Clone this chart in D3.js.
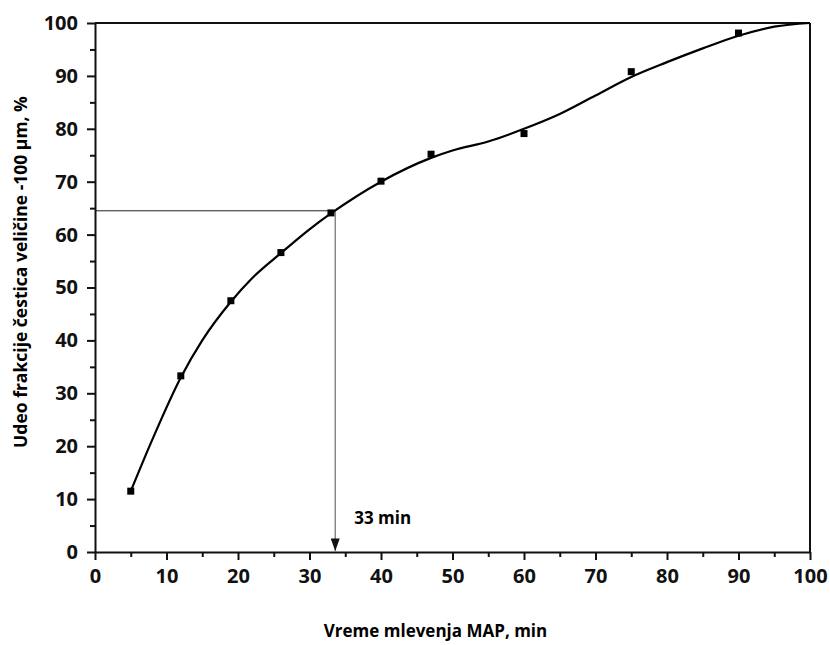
<!DOCTYPE html>
<html>
<head>
<meta charset="utf-8">
<script src="https://cdn.jsdelivr.net/npm/d3@7"></script>
<style>
  body { margin: 0; background: #fff; }
  text { font-family: "Open Sans", sans-serif; font-weight: bold; }
</style>
</head>
<body>
<div id="chart"></div>
<script>
// measured points
const timeMin = [5, 12, 19, 26, 33, 40, 47, 60, 75, 90];
const fraction = [11.5, 33.3, 47.5, 56.6, 64.1, 70.1, 75.2, 79.1, 90.8, 98.1];

// fitted curve
const fitX = [5, 8, 12, 15, 19, 22, 26, 30, 33, 40, 47, 50, 55, 60, 65, 70, 75, 80, 85, 90, 95, 100];
const fitY = [11.5, 21.2, 33, 40, 47.3, 51.8, 56.5, 61, 64, 70, 74.5, 75.9, 77.6, 80, 82.8, 86.3, 89.8, 92.6, 95.2, 97.6, 99.3, 100];

const xTicks = [0, 10, 20, 30, 40, 50, 60, 70, 80, 90, 100];
const yTicks = [0, 10, 20, 30, 40, 50, 60, 70, 80, 90, 100];

const guideX = 33.6, guideY = 64.5;

const width = 830, height = 645;
const margin = { top: 23, right: 20, bottom: 93, left: 95 };
const w = width - margin.left - margin.right;
const h = height - margin.top - margin.bottom;

const svg = d3.select('#chart')
  .append('svg')
  .attr('width', width)
  .attr('height', height);

const g = svg.append('g')
  .attr('transform', `translate(${margin.left},${margin.top})`);

const x = d3.scaleLinear().domain([0, 100]).range([0, w]);
const y = d3.scaleLinear().domain([0, 100]).range([h, 0]);

// arrow marker (points along the line direction)
svg.append('defs').append('marker')
  .attr('id', 'arrow')
  .attr('viewBox', '0 0 14 10')
  .attr('refX', 14).attr('refY', 5)
  .attr('markerWidth', 13).attr('markerHeight', 9)
  .attr('markerUnits', 'userSpaceOnUse')
  .attr('orient', 'auto')
  .append('path')
  .attr('d', 'M0,0 L14,5 L0,10 Z')
  .attr('fill', '#111');

// guide lines
g.append('line')
  .attr('x1', x(0)).attr('x2', x(guideX))
  .attr('y1', y(guideY)).attr('y2', y(guideY))
  .attr('stroke', '#222').attr('stroke-width', 1);

g.append('line')
  .attr('x1', x(guideX)).attr('x2', x(guideX))
  .attr('y1', y(guideY)).attr('y2', y(0) - 1)
  .attr('stroke', '#777').attr('stroke-width', 1.3)
  .attr('marker-end', 'url(#arrow)');

g.append('text')
  .attr('x', x(guideX) + 19)
  .attr('y', y(0) - 28)
  .style('font-size', '17px')
  .text('33 min');

// frame top/right
g.append('line')
  .attr('x1', 0).attr('x2', w).attr('y1', 0).attr('y2', 0)
  .attr('stroke', '#111').attr('stroke-width', 2);
g.append('line')
  .attr('x1', w).attr('x2', w).attr('y1', 0).attr('y2', h)
  .attr('stroke', '#111').attr('stroke-width', 2);

// minor ticks
g.append('g')
  .attr('transform', `translate(0,${h})`)
  .call(d3.axisBottom(x).tickValues(d3.range(5, 100, 10)).tickSize(5).tickFormat(''))
  .call(a => a.select('.domain').remove());
g.append('g')
  .call(d3.axisLeft(y).tickValues(d3.range(5, 100, 10)).tickSize(5).tickFormat(''))
  .call(a => a.select('.domain').remove());

// major axes
const xAxis = g.append('g')
  .attr('transform', `translate(0,${h})`)
  .call(d3.axisBottom(x).tickValues(xTicks).tickSize(8).tickSizeOuter(0).tickPadding(9));
const yAxis = g.append('g')
  .call(d3.axisLeft(y).tickValues(yTicks).tickSize(8).tickSizeOuter(0).tickPadding(9));

g.selectAll('.tick line').attr('stroke', '#111').attr('stroke-width', 2);
g.selectAll('.domain').attr('stroke', '#111').attr('stroke-width', 2);
xAxis.selectAll('text').attr('fill', '#111').style('font-size', '20px');
yAxis.selectAll('text').attr('fill', '#111').style('font-size', '20px');

// fitted curve
const fit = fitX.map((d, i) => [d, fitY[i]]);
g.append('path')
  .datum(fit)
  .attr('fill', 'none')
  .attr('stroke', '#000')
  .attr('stroke-width', 2.2)
  .attr('d', d3.line().x(d => x(d[0])).y(d => y(d[1])).curve(d3.curveMonotoneX));

// markers
const pts = timeMin.map((d, i) => ({ t: d, v: fraction[i] }));
g.selectAll('rect.pt')
  .data(pts)
  .enter()
  .append('rect')
  .attr('class', 'pt')
  .attr('x', d => x(d.t) - 3.5)
  .attr('y', d => y(d.v) - 3.5)
  .attr('width', 7).attr('height', 7)
  .attr('fill', '#000');

// axis titles
svg.append('text')
  .attr('x', margin.left + x(50) - 17)
  .attr('y', 637)
  .attr('text-anchor', 'middle')
  .style('font-size', '17px')
  .text('Vreme mlevenja MAP, min');

svg.append('text')
  .attr('transform', `translate(27,${272}) rotate(-90)`)
  .attr('text-anchor', 'middle')
  .style('font-size', '17.5px')
  .text('Udeo frakcije čestica veličine -100 µm, %');
</script>
</body>
</html>
